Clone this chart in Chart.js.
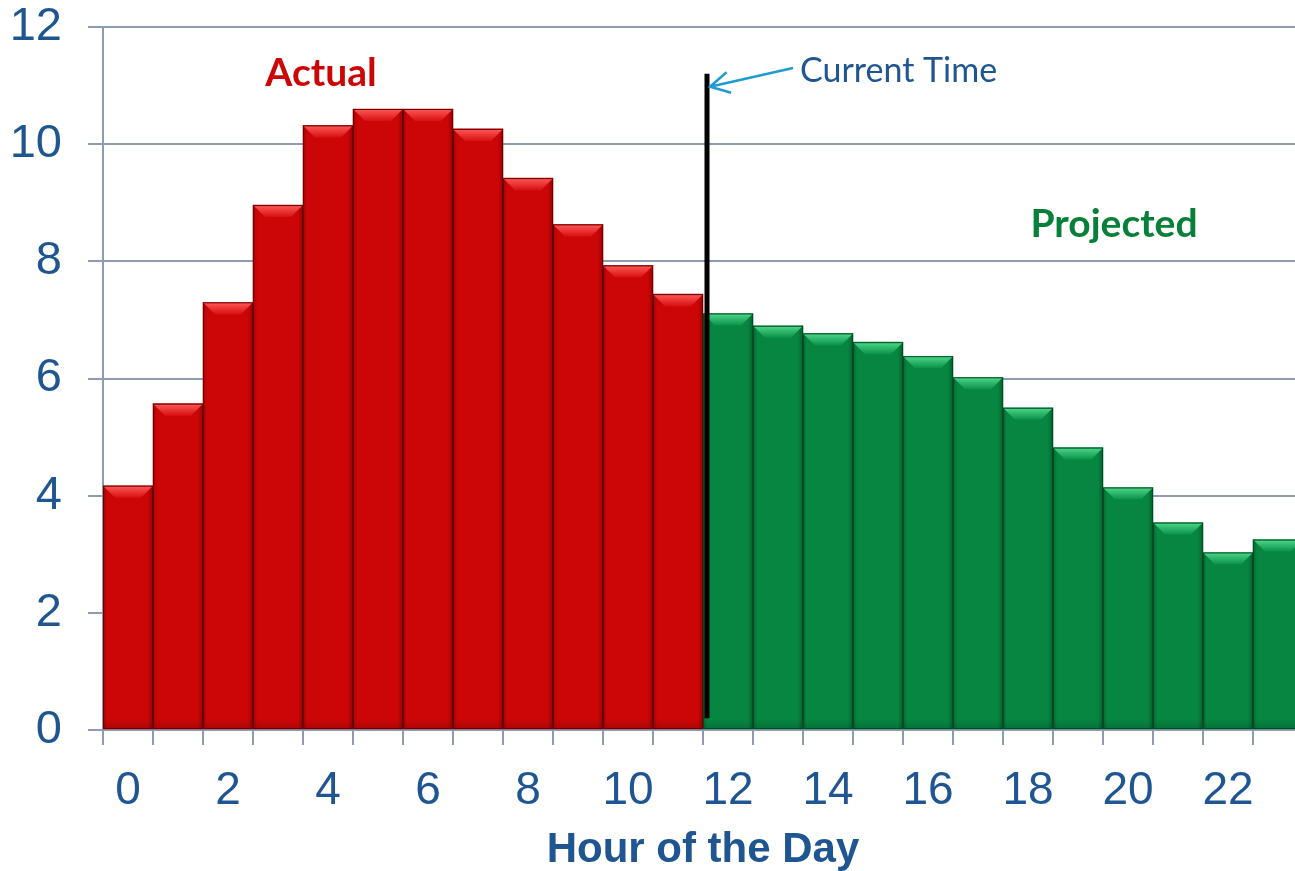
<!DOCTYPE html>
<html lang="en">
<head>
<meta charset="UTF-8">
<title>Hour of the Day</title>
<script src="https://cdn.jsdelivr.net/npm/chart.js"></script>
<style>
    html, body {
        margin: 0;
        padding: 0;
        background: #ffffff;
        overflow: hidden;
    }
    .chart-box {
        width: 1310px;
        height: 871px;
    }
</style>
</head>
<body>
<div class="chart-box">
    <canvas id="hourChart"></canvas>
</div>
<script>
// hours 0..23, first 12 are measured, the rest projected
const hours = ['0', '1', '2', '3', '4', '5', '6', '7', '8', '9', '10', '11',
               '12', '13', '14', '15', '16', '17', '18', '19', '20', '21', '22', '23'];
const actual = [4.17, 5.57, 7.3, 8.96, 10.32, 10.6, 10.6, 10.26, 9.42, 8.63, 7.93, 7.44];
const projected = [7.11, 6.9, 6.77, 6.62, 6.38, 6.02, 5.5, 4.82, 4.14, 3.54, 3.03, 3.25];
const yTicks = [0, 2, 4, 6, 8, 10, 12];

const RED = '#cc0606';
const GREEN = '#068640';
const BLUE = '#1f5591';
const AXIS = '#8e9bb6';

const values = actual.concat(projected);
const barColors = values.map((v, i) => i < actual.length ? RED : GREEN);

// bevelled top and shaded sides, like the office "3D" bar style
const bevelBars = {
    id: 'bevelBars',
    afterDatasetsDraw(chart) {
        const ctx = chart.ctx;
        const meta = chart.getDatasetMeta(0);
        meta.data.forEach((bar, i) => {
            const isActual = i < actual.length;
            const left = bar.x - bar.width / 2;
            const right = bar.x + bar.width / 2;
            const top = bar.y;
            const bottom = bar.base;
            const b = 12;
            ctx.save();
            // side shading
            let g = ctx.createLinearGradient(left, 0, right, 0);
            g.addColorStop(0, 'rgba(0,0,0,0.25)');
            g.addColorStop(0.08, 'rgba(0,0,0,0)');
            g.addColorStop(0.9, 'rgba(0,0,0,0)');
            g.addColorStop(1, 'rgba(0,0,0,0.3)');
            ctx.fillStyle = g;
            ctx.fillRect(left, top, right - left, bottom - top);
            // bottom shading
            g = ctx.createLinearGradient(0, bottom - 10, 0, bottom);
            g.addColorStop(0, 'rgba(0,0,0,0)');
            g.addColorStop(1, 'rgba(0,0,0,0.15)');
            ctx.fillStyle = g;
            ctx.fillRect(left, bottom - 10, right - left, 10);
            // top bevel
            g = ctx.createLinearGradient(0, top, 0, top + b);
            if (isActual) {
                g.addColorStop(0, '#ff5a5a');
                g.addColorStop(1, '#d81010');
            } else {
                g.addColorStop(0, '#4fd98c');
                g.addColorStop(1, '#0a9148');
            }
            ctx.fillStyle = g;
            ctx.beginPath();
            ctx.moveTo(left, top);
            ctx.lineTo(right, top);
            ctx.lineTo(right - b, top + b);
            ctx.lineTo(left + b, top + b);
            ctx.closePath();
            ctx.fill();
            // outline
            ctx.strokeStyle = isActual ? '#6a0000' : '#034a22';
            ctx.lineWidth = 1;
            ctx.strokeRect(left + 0.5, top + 0.5, right - left - 1, bottom - top - 1);
            ctx.restore();
        });
    }
};

// current time marker, arrow and the two labels
const annotations = {
    id: 'annotations',
    afterDraw(chart) {
        const ctx = chart.ctx;
        const xs = chart.scales.x;
        const ys = chart.scales.y;
        const lineX = xs.getPixelForValue(actual.length - 0.5) + 4;
        ctx.save();
        ctx.strokeStyle = '#000000';
        ctx.lineWidth = 5;
        ctx.beginPath();
        ctx.moveTo(lineX, ys.getPixelForValue(11.2));
        ctx.lineTo(lineX, ys.getPixelForValue(0.2));
        ctx.stroke();

        // arrow
        const tipX = lineX + 3;
        const tipY = ys.getPixelForValue(10.98);
        const tailX = lineX + 86;
        const tailY = ys.getPixelForValue(11.3);
        ctx.strokeStyle = '#1f9bd1';
        ctx.lineWidth = 2.5;
        ctx.beginPath();
        ctx.moveTo(tailX, tailY);
        ctx.lineTo(tipX, tipY);
        const ang = Math.atan2(tailY - tipY, tailX - tipX);
        const hl = 22;
        ctx.moveTo(tipX + hl * Math.cos(ang - 0.5), tipY + hl * Math.sin(ang - 0.5));
        ctx.lineTo(tipX, tipY);
        ctx.lineTo(tipX + hl * Math.cos(ang + 0.5), tipY + hl * Math.sin(ang + 0.5));
        ctx.stroke();

        ctx.fillStyle = BLUE;
        ctx.font = '34px Lato';
        ctx.textAlign = 'left';
        ctx.textBaseline = 'middle';
        ctx.fillText('Current Time', tailX + 7, ys.getPixelForValue(11.25));

        ctx.font = 'bold 39px Lato';
        ctx.textAlign = 'center';
        ctx.fillStyle = RED;
        ctx.fillText('Actual', xs.getPixelForValue(3.86), ys.getPixelForValue(11.2));
        ctx.fillStyle = '#068038';
        ctx.fillText('Projected', xs.getPixelForValue(19.72), ys.getPixelForValue(8.63));
        ctx.restore();
    }
};

const ctx = document.getElementById('hourChart').getContext('2d');
const hourChart = new Chart(ctx, {
    type: 'bar',
    data: {
        labels: hours,
        datasets: [{
            label: 'Hour of the Day',
            data: values,
            backgroundColor: barColors,
            borderWidth: 0,
            barPercentage: 1,
            categoryPercentage: 1
        }]
    },
    options: {
        responsive: true,
        maintainAspectRatio: false,
        animation: false,
        layout: {
            padding: { top: 27, right: 7, left: 0, bottom: 0 }
        },
        plugins: {
            legend: { display: false },
            tooltip: { enabled: false }
        },
        scales: {
            x: {
                offset: true,
                grid: {
                    offset: true,
                    drawOnChartArea: false,
                    drawTicks: true,
                    tickLength: 15,
                    color: AXIS,
                    lineWidth: 2
                },
                border: { color: AXIS, width: 2 },
                ticks: {
                    autoSkip: false,
                    maxRotation: 0,
                    padding: 19,
                    color: BLUE,
                    font: { family: 'Liberation Sans', size: 46 },
                    callback: (val, i) => i % 2 === 0 ? hours[i] : ''
                },
                title: {
                    display: true,
                    text: 'Hour of the Day',
                    color: BLUE,
                    font: { family: 'Liberation Sans', size: 42, weight: 'bold', lineHeight: 1.0 },
                    padding: { top: 0, bottom: 0 }
                },
                afterFit: (s) => { s.height = 141; }
            },
            y: {
                min: 0,
                max: 12,
                afterBuildTicks: (s) => { s.ticks = yTicks.map(v => ({ value: v })); },
                grid: {
                    color: AXIS,
                    lineWidth: 2,
                    tickLength: 15
                },
                border: { color: AXIS, width: 2 },
                ticks: {
                    padding: 26,
                    color: BLUE,
                    font: { family: 'Liberation Sans', size: 47 }
                },
                afterFit: (s) => {
                    s.width = 103;
                    s.paddingTop = 0;
                    s.paddingBottom = 0;
                }
            }
        }
    },
    plugins: [bevelBars, annotations]
});
</script>
</body>
</html>
